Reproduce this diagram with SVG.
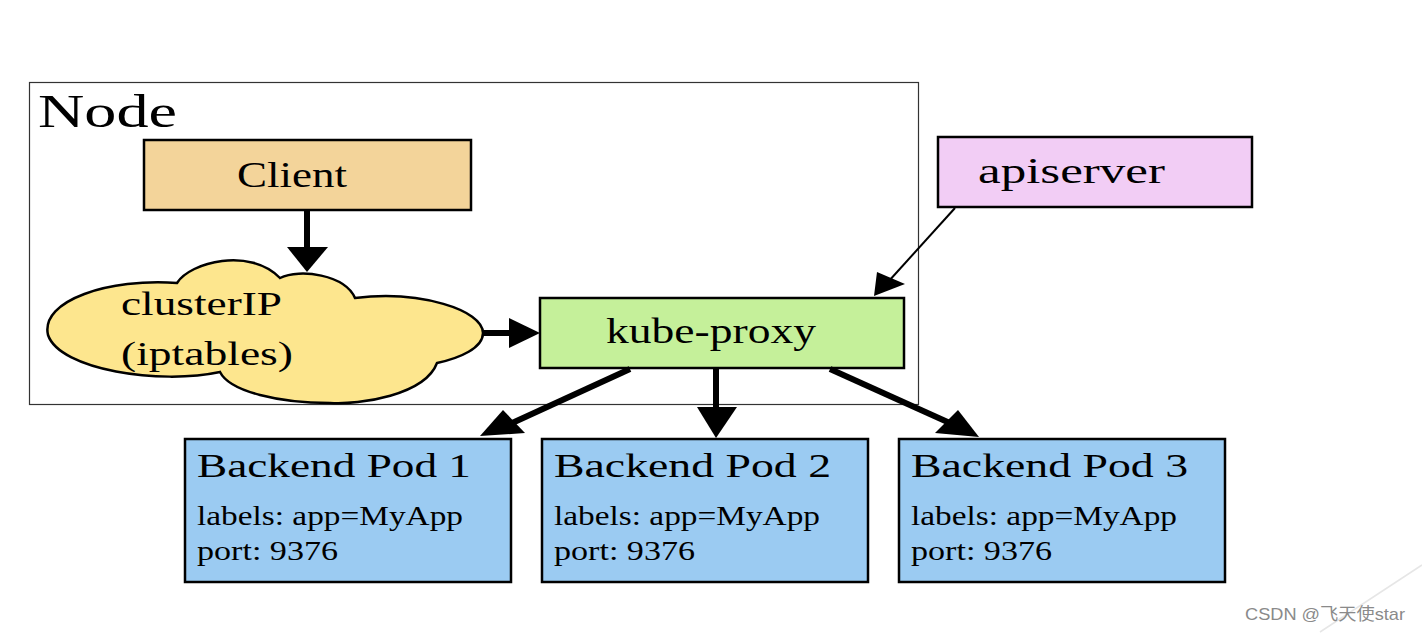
<svg xmlns="http://www.w3.org/2000/svg" width="1422" height="634" viewBox="0 0 1422 634">
<style>
.t{font-family:"Liberation Serif","Times New Roman",serif;fill:#000}
.box{stroke:#000;stroke-width:2.5}
.thick{stroke:#000;stroke-width:6;fill:none}
.head{fill:#000}
</style>
<rect width="1422" height="634" fill="#fff"/>
<line x1="1320" y1="632" x2="1422" y2="565" stroke="#e6e6e6" stroke-width="1.5"/>
<g id="node-container">
<rect x="29.5" y="82.5" width="889" height="322" fill="none" stroke="#333" stroke-width="1.2"/>
<text class="t" x="38" y="127" font-size="46" textLength="139" lengthAdjust="spacingAndGlyphs">Node</text>
</g>
<g id="client">
<rect class="box" x="144" y="140" width="327" height="70" fill="#f3d49a"/>
<text class="t" x="237" y="187" font-size="36" textLength="110" lengthAdjust="spacingAndGlyphs">Client</text>
</g>
<g id="clusterip">
<path class="box" fill="#fde68e" stroke-width="2" d="M220,372 C160,385 60,370 48,335 C40,300 110,278 177,283 C190,262 250,247 280,278 C300,268 345,275 355,298 C420,290 483,310 483,333 C483,348 460,358 437,363 C425,395 360,405 330,403 C280,403 230,392 220,372 Z"/>
<text class="t" x="121" y="315" font-size="34" textLength="161" lengthAdjust="spacingAndGlyphs">clusterIP</text>
<text class="t" x="121" y="365" font-size="34" textLength="172" lengthAdjust="spacingAndGlyphs">(iptables)</text>
</g>
<g id="kube-proxy">
<rect class="box" x="540" y="298" width="364" height="70" fill="#c5f09a"/>
<text class="t" x="606" y="343" font-size="36" textLength="210" lengthAdjust="spacingAndGlyphs">kube-proxy</text>
</g>
<g id="apiserver">
<rect class="box" x="938" y="137" width="314" height="70" fill="#f2cdf5"/>
<text class="t" x="978" y="183" font-size="36" textLength="187" lengthAdjust="spacingAndGlyphs">apiserver</text>
</g>
<g id="pod1">
<rect class="box" x="185" y="439" width="326" height="143" fill="#9bcbf2"/>
<text class="t" x="197" y="477" font-size="34" textLength="274" lengthAdjust="spacingAndGlyphs">Backend Pod 1</text>
<text class="t" x="197" y="525" font-size="27" textLength="266" lengthAdjust="spacingAndGlyphs">labels: app=MyApp</text>
<text class="t" x="197" y="560" font-size="27" textLength="141" lengthAdjust="spacingAndGlyphs">port: 9376</text>
</g>
<g id="pod2">
<rect class="box" x="542" y="439" width="326" height="143" fill="#9bcbf2"/>
<text class="t" x="554" y="477" font-size="34" textLength="277" lengthAdjust="spacingAndGlyphs">Backend Pod 2</text>
<text class="t" x="554" y="525" font-size="27" textLength="266" lengthAdjust="spacingAndGlyphs">labels: app=MyApp</text>
<text class="t" x="554" y="560" font-size="27" textLength="141" lengthAdjust="spacingAndGlyphs">port: 9376</text>
</g>
<g id="pod3">
<rect class="box" x="899" y="439" width="326" height="143" fill="#9bcbf2"/>
<text class="t" x="911" y="477" font-size="34" textLength="277" lengthAdjust="spacingAndGlyphs">Backend Pod 3</text>
<text class="t" x="911" y="525" font-size="27" textLength="266" lengthAdjust="spacingAndGlyphs">labels: app=MyApp</text>
<text class="t" x="911" y="560" font-size="27" textLength="141" lengthAdjust="spacingAndGlyphs">port: 9376</text>
</g>
<g id="connectors">
<line class="thick" x1="307" y1="211" x2="307" y2="250"/>
<polygon class="head" points="287,247 328,247 307,272"/>
<line class="thick" x1="483" y1="333" x2="512" y2="333"/>
<polygon class="head" points="509,318 509,348 540,333"/>
<line x1="955" y1="208" x2="888" y2="282" stroke="#000" stroke-width="2"/>
<polygon class="head" points="874,296 877,272 905,284"/>
<line class="thick" x1="630" y1="369" x2="510" y2="424"/>
<polygon class="head" points="480,436 503,410 525,433"/>
<line class="thick" x1="716" y1="369" x2="716" y2="410"/>
<polygon class="head" points="697,407 737,407 716,438"/>
<line class="thick" x1="830" y1="369" x2="952" y2="424"/>
<polygon class="head" points="979,437 935,433 958,410"/>
</g>
<text x="1245" y="620" font-family="'Liberation Sans','Noto Sans CJK SC',sans-serif" font-size="17" fill="#8a8a8a" textLength="160" lengthAdjust="spacingAndGlyphs">CSDN @飞天使star</text>
</svg>
